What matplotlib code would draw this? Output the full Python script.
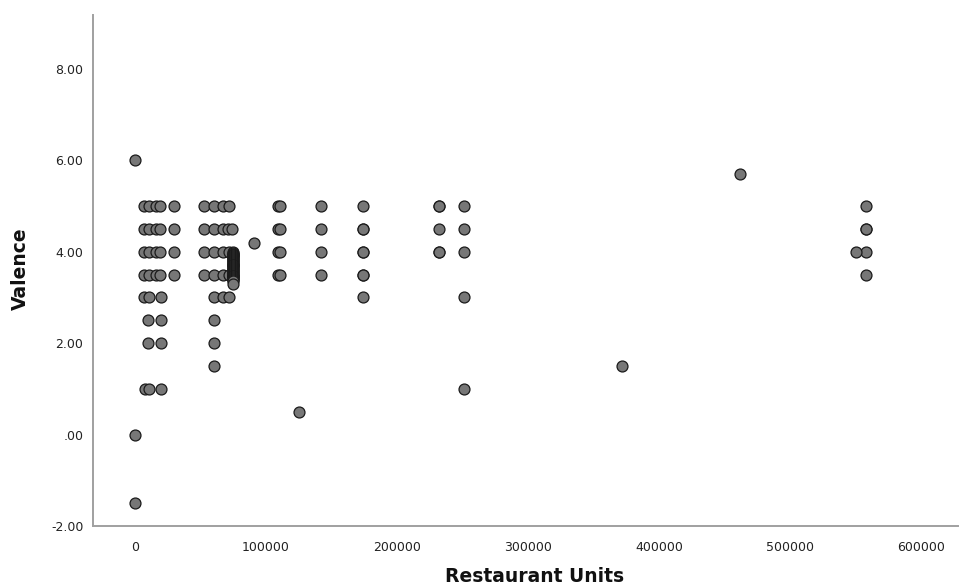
import matplotlib
matplotlib.use("Agg")
import matplotlib.pyplot as plt
from matplotlib.ticker import FuncFormatter

# Restaurant units vs valence
units = [
    0, 0, 0,
    # cluster near 10k-30k
    7000, 11000, 16000, 19000, 30000,
    7000, 11000, 16000, 19000, 30000,
    7000, 11000, 16000, 19000, 30000,
    7000, 11000, 16000, 19000, 30000,
    7000, 11000, 20000,
    10000, 20000,
    10000, 20000,
    8000, 11000, 20000,
    # cluster near 55k-75k
    53000, 60000, 67000, 72000,
    53000, 60000, 67000, 71000, 74000,
    53000, 60000, 67000, 72000,
    53000, 60000, 67000, 72000,
    60000, 67000, 72000,
    60000, 60000, 60000,
    91000,
    109000, 109000, 109000, 109000,
    111000, 111000, 111000, 111000,
    125000,
    142000, 142000, 142000, 142000,
    174000, 174000, 174000, 174000, 174000,
    174000, 174000, 174000,
    232000, 232000, 232000, 232000, 232000,
    251000, 251000, 251000, 251000, 251000,
    372000,
    462000,
    558000, 558000, 558000, 558000, 558000, 550000,
]
valence = [
    6.0, 0.0, -1.5,
    5.0, 5.0, 5.0, 5.0, 5.0,
    4.5, 4.5, 4.5, 4.5, 4.5,
    4.0, 4.0, 4.0, 4.0, 4.0,
    3.5, 3.5, 3.5, 3.5, 3.5,
    3.0, 3.0, 3.0,
    2.5, 2.5,
    2.0, 2.0,
    1.0, 1.0, 1.0,
    5.0, 5.0, 5.0, 5.0,
    4.5, 4.5, 4.5, 4.5, 4.5,
    4.0, 4.0, 4.0, 4.0,
    3.5, 3.5, 3.5, 3.5,
    3.0, 3.0, 3.0,
    2.5, 2.0, 1.5,
    4.2,
    5.0, 4.5, 4.0, 3.5,
    5.0, 4.5, 4.0, 3.5,
    0.5,
    5.0, 4.5, 4.0, 3.5,
    5.0, 4.5, 4.0, 3.5, 3.0,
    4.5, 4.0, 3.5,
    5.0, 4.5, 4.0, 5.0, 4.0,
    5.0, 4.5, 4.0, 3.0, 1.0,
    1.5,
    5.7,
    5.0, 4.5, 4.0, 3.5, 4.5, 4.0,
]

# dense stack of cases at ~75000 units (prints as a solid black bar)
stack_units = 75000
stack_valence = [
    4.00, 3.98, 3.96, 3.94, 3.92, 3.90, 3.88, 3.86, 3.84, 3.82,
    3.80, 3.78, 3.76, 3.74, 3.72, 3.70, 3.68, 3.66, 3.64, 3.62,
    3.60, 3.58, 3.56, 3.54, 3.52, 3.50, 3.48, 3.46, 3.44, 3.42,
    3.40, 3.38, 3.36, 3.30,
]

fig = plt.figure(figsize=(9.61, 5.87), dpi=100)
ax = fig.add_axes([0.0968, 0.1039, 0.900, 0.8705])

marker = dict(s=62, c="#777777", edgecolors="#1a1a1a", linewidths=0.9, zorder=3)
ax.scatter(units, valence, **marker)
ax.scatter([stack_units] * len(stack_valence), stack_valence, **marker)

ax.set_xlim(-32000, 628000)
ax.set_ylim(-2, 9.18)
ax.set_xticks([0, 100000, 200000, 300000, 400000, 500000, 600000])
ax.set_yticks([-2, 0, 2, 4, 6, 8])
ax.xaxis.set_major_formatter(FuncFormatter(lambda v, p: f"{int(v)}"))
ax.yaxis.set_major_formatter(FuncFormatter(lambda v, p: ".00" if v == 0 else f"{v:.2f}"))
ax.tick_params(length=0, labelsize=9, colors="#222222")
ax.tick_params(axis="x", pad=11)
ax.tick_params(axis="y", pad=7)

for s in ["top", "right"]:
    ax.spines[s].set_visible(False)
for s in ["left", "bottom"]:
    ax.spines[s].set_color("#a0a0a0")
    ax.spines[s].set_linewidth(1.4)

lab_font = dict(fontsize=13.5, fontweight="bold", color="#111111")
ax.set_xlabel("Restaurant Units", **lab_font)
ax.set_ylabel("Valence", **lab_font)
ax.xaxis.set_label_coords(0.511, -0.080)
ax.yaxis.set_label_coords(-0.073, 0.503)

fig.savefig("out.png", dpi=100)
